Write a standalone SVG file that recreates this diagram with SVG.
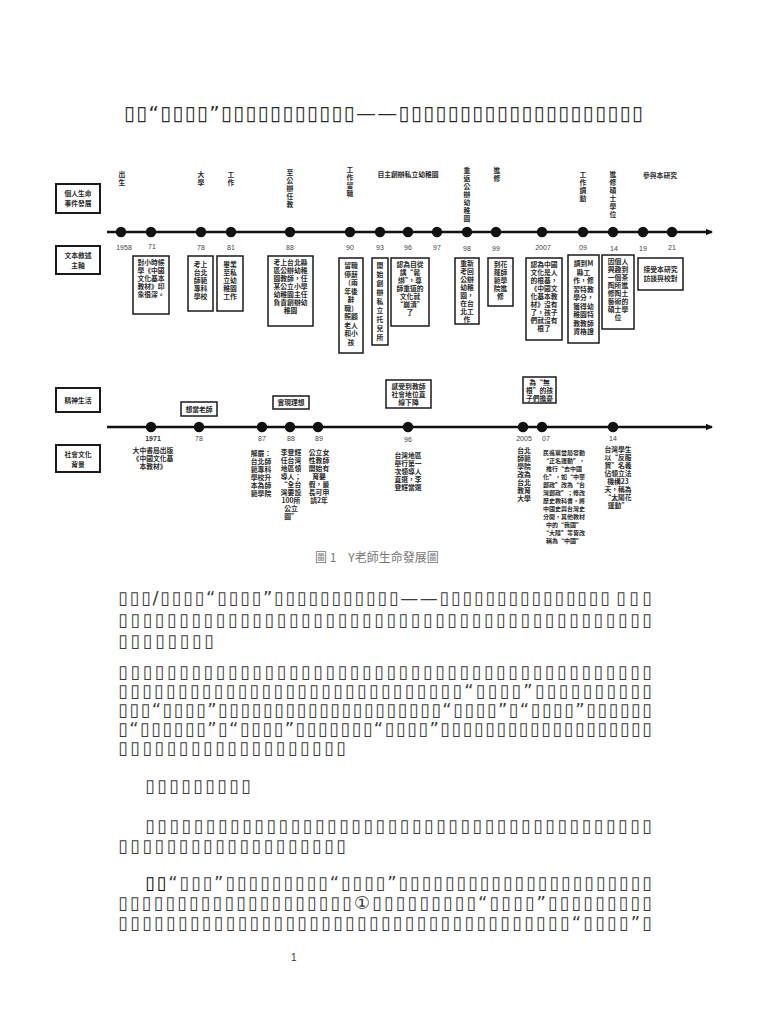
<svg xmlns="http://www.w3.org/2000/svg" width="768" height="1024" viewBox="0 0 768 1024">
<style>
.bg{fill:#fff}
.box{fill:#fff;stroke:#1a1a1a;stroke-width:1.5}
.lbox{fill:#fff;stroke:#1a1a1a;stroke-width:2}
.tl{stroke:#111;stroke-width:2.5;fill:none}
.dot{fill:#111}
.t{font-family:"Noto Sans CJK TC","Noto Sans CJK SC",sans-serif;font-size:6.8px;font-weight:bold;fill:#2a2a2a;text-anchor:middle}
.ts{font-size:6px}
.yr{font-family:"Liberation Sans",Arial,sans-serif;font-size:7px;fill:#444;text-anchor:middle}
.yrb{font-family:"Liberation Sans",Arial,sans-serif;font-size:7px;font-weight:bold;fill:#333;text-anchor:middle}
.cap{font-family:"Noto Sans CJK TC",sans-serif;font-size:12px;fill:#777}
.body{font-family:"DejaVu Sans",sans-serif;font-size:18px;fill:#3a3a3a}
.ttl{font-family:"DejaVu Sans",sans-serif;font-size:20px;fill:#2a2a2a}
.soft{opacity:0.99}
.pg{font-family:"Liberation Sans",Arial,sans-serif;font-size:10px;fill:#333}
</style>
<defs>
<marker id="arr" markerWidth="8" markerHeight="8" refX="6" refY="4" orient="auto" markerUnits="userSpaceOnUse">
<path d="M0,0.8 L7,4 L0,7.2 Z" fill="#111"/>
</marker>
</defs>
<rect class="bg" x="0" y="0" width="768" height="1024"/>

<g id="title" class="soft">
<text class="ttl" x="124" y="120" textLength="519" lengthAdjust="spacing">▯▯“▯▯▯▯”▯▯▯▯▯▯▯▯▯▯▯——▯▯▯▯▯▯▯▯▯▯▯▯▯▯▯▯▯▯▯▯</text>
</g>

<g id="connectors">
<line class="tl" x1="107" y1="232" x2="712" y2="232" marker-end="url(#arr)"/>
<line class="tl" x1="107" y1="427" x2="712" y2="427" marker-end="url(#arr)"/>
</g>

<g id="row-labels">
<g id="lab-personal"><rect class="lbox" x="56" y="184" width="44" height="29"/><text class="t" x="78" y="196">個人生命</text><text class="t" x="78" y="206">事件發展</text></g>
<g id="lab-narrative"><rect class="lbox" x="56" y="246" width="44" height="28"/><text class="t" x="78" y="258">文本敘述</text><text class="t" x="78" y="268">主軸</text></g>
<g id="lab-spirit"><rect class="lbox" x="56" y="388" width="44" height="24"/><text class="t" x="78" y="402.5">精神生活</text></g>
<g id="lab-society"><rect class="lbox" x="56" y="445" width="44" height="27"/><text class="t" x="78" y="457">社會文化</text><text class="t" x="78" y="467">背景</text></g>
</g>

<g id="events-top">
<text class="t" x="122"><tspan x="122" y="177">出</tspan><tspan x="122" y="185">生</tspan></text>
<text class="t" x="201"><tspan x="201" y="177">大</tspan><tspan x="201" y="185">學</tspan></text>
<text class="t" x="231"><tspan x="231" y="177">工</tspan><tspan x="231" y="185">作</tspan></text>
<text class="t" x="290"><tspan x="290" y="175">至</tspan><tspan x="290" y="183">公</tspan><tspan x="290" y="191">辦</tspan><tspan x="290" y="199">任</tspan><tspan x="290" y="207">教</tspan></text>
<text class="t" x="350"><tspan x="350" y="172">工</tspan><tspan x="350" y="180">作</tspan><tspan x="350" y="188">留</tspan><tspan x="350" y="196">職</tspan></text>
<text class="t" x="408" y="177">自主創辦私立幼稚園</text>
<text class="t" x="467"><tspan x="467" y="173">重</tspan><tspan x="467" y="181">返</tspan><tspan x="467" y="189">公</tspan><tspan x="467" y="197">辦</tspan><tspan x="467" y="205">幼</tspan><tspan x="467" y="213">稚</tspan><tspan x="467" y="221">園</tspan></text>
<text class="t" x="497"><tspan x="497" y="173">進</tspan><tspan x="497" y="181">修</tspan></text>
<text class="t" x="583"><tspan x="583" y="177">工</tspan><tspan x="583" y="185">作</tspan><tspan x="583" y="193">調</tspan><tspan x="583" y="201">動</tspan></text>
<text class="t" x="613"><tspan x="613" y="177">進</tspan><tspan x="613" y="185">修</tspan><tspan x="613" y="193">碩</tspan><tspan x="613" y="201">士</tspan><tspan x="613" y="209">學</tspan><tspan x="613" y="217">位</tspan></text>
<text class="t" x="660" y="178">參與本研究</text>
</g>

<g id="timeline1-dots">
<circle class="dot" cx="121" cy="232" r="5.2"/><circle class="dot" cx="151" cy="232" r="5.2"/><circle class="dot" cx="201" cy="232" r="5.2"/><circle class="dot" cx="231" cy="232" r="5.2"/><circle class="dot" cx="290" cy="232" r="5.2"/><circle class="dot" cx="350" cy="232" r="5.2"/><circle class="dot" cx="380" cy="232" r="5.2"/><circle class="dot" cx="408" cy="232" r="5.2"/><circle class="dot" cx="437" cy="232" r="5.2"/><circle class="dot" cx="467" cy="232" r="5.2"/><circle class="dot" cx="496" cy="232" r="5.2"/><circle class="dot" cx="542" cy="232" r="5.2"/><circle class="dot" cx="583" cy="232" r="5.2"/><circle class="dot" cx="613" cy="232" r="5.2"/><circle class="dot" cx="643" cy="232" r="5.2"/><circle class="dot" cx="672" cy="232" r="5.2"/>
</g>
<g id="timeline1-years">
<text class="yr" x="124" y="250">1958</text><text class="yr" x="152" y="249">71</text><text class="yr" x="201" y="250">78</text><text class="yr" x="231" y="250">81</text><text class="yr" x="290" y="250">88</text><text class="yr" x="350" y="250">90</text><text class="yr" x="380" y="250">93</text><text class="yr" x="408" y="250">96</text><text class="yr" x="437" y="250">97</text><text class="yr" x="467" y="251">98</text><text class="yr" x="496" y="251">99</text><text class="yr" x="543" y="250">2007</text><text class="yr" x="583" y="250">09</text><text class="yr" x="614" y="251">14</text><text class="yr" x="643" y="251">19</text><text class="yr" x="672" y="250">21</text>
</g>

<g id="n71"><rect class="box" x="133" y="256" width="36" height="58"/><text class="t"><tspan x="151" y="265">對小時候</tspan><tspan x="151" y="273">學《中國</tspan><tspan x="151" y="281">文化基本</tspan><tspan x="151" y="289">教材》印</tspan><tspan x="151" y="297">象很深。</tspan></text></g>
<g id="n78"><rect class="box" x="188" y="256" width="25" height="55"/><text class="t"><tspan x="200.5" y="267">考上</tspan><tspan x="200.5" y="275">台北</tspan><tspan x="200.5" y="283">師範</tspan><tspan x="200.5" y="291">專科</tspan><tspan x="200.5" y="299">學校</tspan></text></g>
<g id="n81"><rect class="box" x="217" y="256" width="26" height="55"/><text class="t"><tspan x="230" y="267">畢業</tspan><tspan x="230" y="275">至私</tspan><tspan x="230" y="283">立幼</tspan><tspan x="230" y="291">稚園</tspan><tspan x="230" y="299">工作</tspan></text></g>
<g id="n88"><rect class="box" x="268" y="256" width="45" height="70"/><text class="t"><tspan x="290.5" y="265">考上台北縣</tspan><tspan x="290.5" y="273">區公辦幼稚</tspan><tspan x="290.5" y="281">園教師，任</tspan><tspan x="290.5" y="289">某公立小學</tspan><tspan x="290.5" y="297">幼稚園主任</tspan><tspan x="290.5" y="305">負責創辦幼</tspan><tspan x="290.5" y="313">稚園</tspan></text></g>
<g id="n90"><rect class="box" x="339" y="258" width="24" height="95"/><text class="t"><tspan x="351" y="268">留職</tspan><tspan x="351" y="276.5">停薪</tspan><tspan x="351" y="285">（兩</tspan><tspan x="351" y="293.5">年後</tspan><tspan x="351" y="302">辭</tspan><tspan x="351" y="310.5">職）</tspan><tspan x="351" y="319">照顧</tspan><tspan x="351" y="327.5">老人</tspan><tspan x="351" y="336">和小</tspan><tspan x="351" y="344.5">孩</tspan></text></g>
<g id="n93"><rect class="box" x="372" y="258" width="16" height="87"/><text class="t"><tspan x="380" y="268">開</tspan><tspan x="380" y="277">始</tspan><tspan x="380" y="286">創</tspan><tspan x="380" y="295">辦</tspan><tspan x="380" y="304">私</tspan><tspan x="380" y="313">立</tspan><tspan x="380" y="322">托</tspan><tspan x="380" y="331">兒</tspan><tspan x="380" y="340">所</tspan></text></g>
<g id="n96"><rect class="box" x="391" y="258" width="38" height="68"/><text class="t"><tspan x="410" y="267">認為自從</tspan><tspan x="410" y="275">講“鬆</tspan><tspan x="410" y="283">綁”，尊</tspan><tspan x="410" y="291">師重道的</tspan><tspan x="410" y="299">文化就</tspan><tspan x="410" y="307">“崩潰”</tspan><tspan x="410" y="315">了</tspan></text></g>
<g id="n98"><rect class="box" x="455" y="258" width="24" height="66"/><text class="t"><tspan x="467" y="266">重新</tspan><tspan x="467" y="274">考回</tspan><tspan x="467" y="282">公辦</tspan><tspan x="467" y="290">幼稚</tspan><tspan x="467" y="298">園，</tspan><tspan x="467" y="306">在台</tspan><tspan x="467" y="314">北工</tspan><tspan x="467" y="322">作</tspan></text></g>
<g id="n99"><rect class="box" x="488" y="258" width="25" height="48"/><text class="t"><tspan x="500.5" y="267">到花</tspan><tspan x="500.5" y="275">蓮師</tspan><tspan x="500.5" y="283">範學</tspan><tspan x="500.5" y="291">院進</tspan><tspan x="500.5" y="299">修</tspan></text></g>
<g id="n2007"><rect class="box" x="526" y="258" width="36" height="82"/><text class="t"><tspan x="544" y="267">認為中國</tspan><tspan x="544" y="275">文化是人</tspan><tspan x="544" y="283">的根基，</tspan><tspan x="544" y="291">《中國文</tspan><tspan x="544" y="299">化基本教</tspan><tspan x="544" y="307">材》沒有</tspan><tspan x="544" y="315">了，孩子</tspan><tspan x="544" y="323">們就沒有</tspan><tspan x="544" y="331">根了</tspan></text></g>
<g id="n09"><rect class="box" x="568" y="255" width="31" height="88"/><text class="t"><tspan x="583.5" y="266">調到M</tspan><tspan x="583.5" y="274.5">縣工</tspan><tspan x="583.5" y="283">作，修</tspan><tspan x="583.5" y="291.5">習特教</tspan><tspan x="583.5" y="300">學分，</tspan><tspan x="583.5" y="308.5">獲得幼</tspan><tspan x="583.5" y="317">稚園特</tspan><tspan x="583.5" y="325.5">教教師</tspan><tspan x="583.5" y="334">資格證</tspan></text></g>
<g id="n14"><rect class="box" x="602" y="255" width="32" height="74"/><text class="t"><tspan x="618" y="264">因個人</tspan><tspan x="618" y="272">興趣到</tspan><tspan x="618" y="280">一個茶</tspan><tspan x="618" y="288">陶所進</tspan><tspan x="618" y="296">修陶土</tspan><tspan x="618" y="304">藝術的</tspan><tspan x="618" y="312">碩士學</tspan><tspan x="618" y="320">位</tspan></text></g>
<g id="n19"><rect class="box" x="638" y="258" width="45" height="32"/><text class="t"><tspan x="660.5" y="272">接受本研究</tspan><tspan x="660.5" y="281">訪談與校對</tspan></text></g>

<g id="timeline2-dots">
<circle class="dot" cx="151" cy="427" r="5.2"/><circle class="dot" cx="199" cy="427" r="5.2"/><circle class="dot" cx="262" cy="427" r="5.2"/><circle class="dot" cx="290" cy="427" r="5.2"/><circle class="dot" cx="318" cy="427" r="5.2"/><circle class="dot" cx="408" cy="427" r="5.2"/><circle class="dot" cx="523" cy="427" r="5.2"/><circle class="dot" cx="542" cy="427" r="5.2"/><circle class="dot" cx="613" cy="427" r="5.2"/>
</g>
<g id="timeline2-years">
<text class="yrb" x="153" y="441">1971</text><text class="yr" x="199" y="441">78</text><text class="yr" x="262" y="441">87</text><text class="yr" x="291" y="441">88</text><text class="yr" x="319" y="441">89</text><text class="yr" x="408" y="442">96</text><text class="yr" x="524" y="441">2005</text><text class="yr" x="546" y="441">07</text><text class="yr" x="613" y="441">14</text>
</g>

<g id="s78"><rect class="box" x="181" y="402" width="36" height="14"/><text class="t" x="199" y="411.5">想當老師</text></g>
<g id="s88"><rect class="box" x="273" y="396" width="36" height="13"/><text class="t" x="291" y="405">實現理想</text></g>
<g id="s96"><rect class="box" x="386" y="380" width="45" height="28"/><text class="t"><tspan x="408.5" y="389">感受到教師</tspan><tspan x="408.5" y="397">社會地位直</tspan><tspan x="408.5" y="405">線下降</tspan></text></g>
<g id="s07"><rect class="box" x="523" y="377" width="33" height="26"/><text class="t"><tspan x="539.5" y="385">為“無</tspan><tspan x="539.5" y="393">根”的孩</tspan><tspan x="539.5" y="401">子們擔憂</tspan></text></g>

<g id="c1971"><text class="t"><tspan x="153" y="453">大中書局出版</tspan><tspan x="153" y="461">《中國文化基</tspan><tspan x="153" y="469">本教材》</tspan></text></g>
<g id="c87"><text class="t"><tspan x="261" y="456">解嚴：</tspan><tspan x="261" y="464">台北師</tspan><tspan x="261" y="472">範專科</tspan><tspan x="261" y="480">學校升</tspan><tspan x="261" y="488">本為師</tspan><tspan x="261" y="496">範學院</tspan></text></g>
<g id="c88"><text class="t"><tspan x="291" y="455">李登輝</tspan><tspan x="291" y="463">任台灣</tspan><tspan x="291" y="471">地區領</tspan><tspan x="291" y="479">導人；</tspan><tspan x="291" y="487">“全台</tspan><tspan x="291" y="495">灣要設</tspan><tspan x="291" y="503">100所</tspan><tspan x="291" y="511">公立</tspan><tspan x="291" y="519">園”</tspan></text></g>
<g id="c89"><text class="t"><tspan x="319" y="455">公立女</tspan><tspan x="319" y="463">性教師</tspan><tspan x="319" y="471">開始有</tspan><tspan x="319" y="479">育嬰</tspan><tspan x="319" y="487">假，最</tspan><tspan x="319" y="495">長可申</tspan><tspan x="319" y="503">請2年</tspan></text></g>
<g id="c96"><text class="t"><tspan x="408" y="458">台灣地區</tspan><tspan x="408" y="466">舉行第一</tspan><tspan x="408" y="474">次領導人</tspan><tspan x="408" y="482">直選，李</tspan><tspan x="408" y="490">登輝當選</tspan></text></g>
<g id="c2005"><text class="t"><tspan x="524" y="453">台北</tspan><tspan x="524" y="461">師範</tspan><tspan x="524" y="469">學院</tspan><tspan x="524" y="477">改為</tspan><tspan x="524" y="485">台北</tspan><tspan x="524" y="493">教育</tspan><tspan x="524" y="501">大學</tspan></text></g>
<g id="c07"><text class="t ts"><tspan x="564" y="455">民進黨當局發動</tspan><tspan x="564" y="463">“正名運動”，</tspan><tspan x="564" y="471">推行“去中國</tspan><tspan x="564" y="479">化”，如“中華</tspan><tspan x="564" y="487">郵政”改為“台</tspan><tspan x="564" y="495">灣郵政”；修改</tspan><tspan x="564" y="503">歷史教科書，將</tspan><tspan x="564" y="511">中國史與台灣史</tspan><tspan x="564" y="519">分開，其他教材</tspan><tspan x="564" y="527">中的“我國”</tspan><tspan x="564" y="535">“大陸”等皆改</tspan><tspan x="564" y="543">稱為“中國”</tspan></text></g>
<g id="c14"><text class="t"><tspan x="618" y="452">台灣學生</tspan><tspan x="618" y="460">以“反服</tspan><tspan x="618" y="468">貿”名義</tspan><tspan x="618" y="476">佔領立法</tspan><tspan x="618" y="484">機構23</tspan><tspan x="618" y="492">天，稱為</tspan><tspan x="618" y="500">“太陽花</tspan><tspan x="618" y="508">運動”</tspan></text></g>

<g id="caption"><text class="cap" x="315" y="562">圖 1　Y老師生命發展圖</text></g>

<g id="body" class="soft">
<text class="body" x="118" y="604" textLength="492" lengthAdjust="spacing">▯▯▯/▯▯▯▯“▯▯▯▯”▯▯▯▯▯▯▯▯▯▯▯——▯▯▯▯▯▯▯▯▯▯▯▯▯▯▯</text>
<text class="body" x="616" y="604" textLength="36" lengthAdjust="spacing">▯▯▯</text>
<text class="body" x="118" y="626" textLength="534" lengthAdjust="spacing">▯▯▯▯▯▯▯▯▯▯▯▯▯▯▯▯▯▯▯▯▯▯▯▯▯▯▯▯▯▯▯▯▯▯▯▯▯▯▯▯▯▯▯▯</text>
<text class="body" x="118" y="647" textLength="96" lengthAdjust="spacing">▯▯▯▯▯▯▯▯</text>

<text class="body" x="118" y="678" textLength="534" lengthAdjust="spacing">▯▯▯▯▯▯▯▯▯▯▯▯▯▯▯▯▯▯▯▯▯▯▯▯▯▯▯▯▯▯▯▯▯▯▯▯▯▯▯▯▯▯▯▯</text>
<text class="body" x="118" y="697" textLength="534" lengthAdjust="spacing">▯▯▯▯▯▯▯▯▯▯▯▯▯▯▯▯▯▯▯▯▯▯▯▯▯▯▯▯▯“▯▯▯▯”▯▯▯▯▯▯▯▯▯▯</text>
<text class="body" x="118" y="716" textLength="534" lengthAdjust="spacing">▯▯▯“▯▯▯▯”▯▯▯▯▯▯▯▯▯▯▯▯▯▯▯▯▯▯▯▯“▯▯▯▯”▯“▯▯▯▯”▯▯▯▯▯▯</text>
<text class="body" x="118" y="735" textLength="534" lengthAdjust="spacing">▯“▯▯▯▯▯▯”▯“▯▯▯▯”▯▯▯▯▯▯▯“▯▯▯▯”▯▯▯▯▯▯▯▯▯▯▯▯▯▯▯▯▯▯▯</text>
<text class="body" x="118" y="754" textLength="228" lengthAdjust="spacing">▯▯▯▯▯▯▯▯▯▯▯▯▯▯▯▯▯▯▯</text>

<text class="body" x="145" y="792" textLength="106" lengthAdjust="spacing">▯▯▯▯▯▯▯▯▯</text>

<text class="body" x="145" y="832" textLength="507" lengthAdjust="spacing">▯▯▯▯▯▯▯▯▯▯▯▯▯▯▯▯▯▯▯▯▯▯▯▯▯▯▯▯▯▯▯▯▯▯▯▯▯▯▯▯▯▯</text>
<text class="body" x="118" y="852" textLength="228" lengthAdjust="spacing">▯▯▯▯▯▯▯▯▯▯▯▯▯▯▯▯▯▯▯</text>

<text class="body" x="145" y="889" textLength="507" lengthAdjust="spacing"><tspan font-weight="bold" fill="#000">▯▯</tspan>“▯▯▯”▯▯▯▯▯▯▯▯▯“▯▯▯▯”▯▯▯▯▯▯▯▯▯▯▯▯▯▯▯▯▯▯▯▯▯▯</text>
<text class="body" x="118" y="909" textLength="534" lengthAdjust="spacing">▯▯▯▯▯▯▯▯▯▯▯▯▯▯▯▯▯▯▯▯①▯▯▯▯▯▯▯▯▯“▯▯▯▯”▯▯▯▯▯▯▯▯▯</text>
<text class="body" x="118" y="929" textLength="534" lengthAdjust="spacing">▯▯▯▯▯▯▯▯▯▯▯▯▯▯▯▯▯▯▯▯▯▯▯▯▯▯▯▯▯▯▯▯▯▯▯▯▯▯“▯▯▯▯”▯</text>
</g>

<g id="page-number"><text class="pg" x="291" y="961">1</text></g>
</svg>
